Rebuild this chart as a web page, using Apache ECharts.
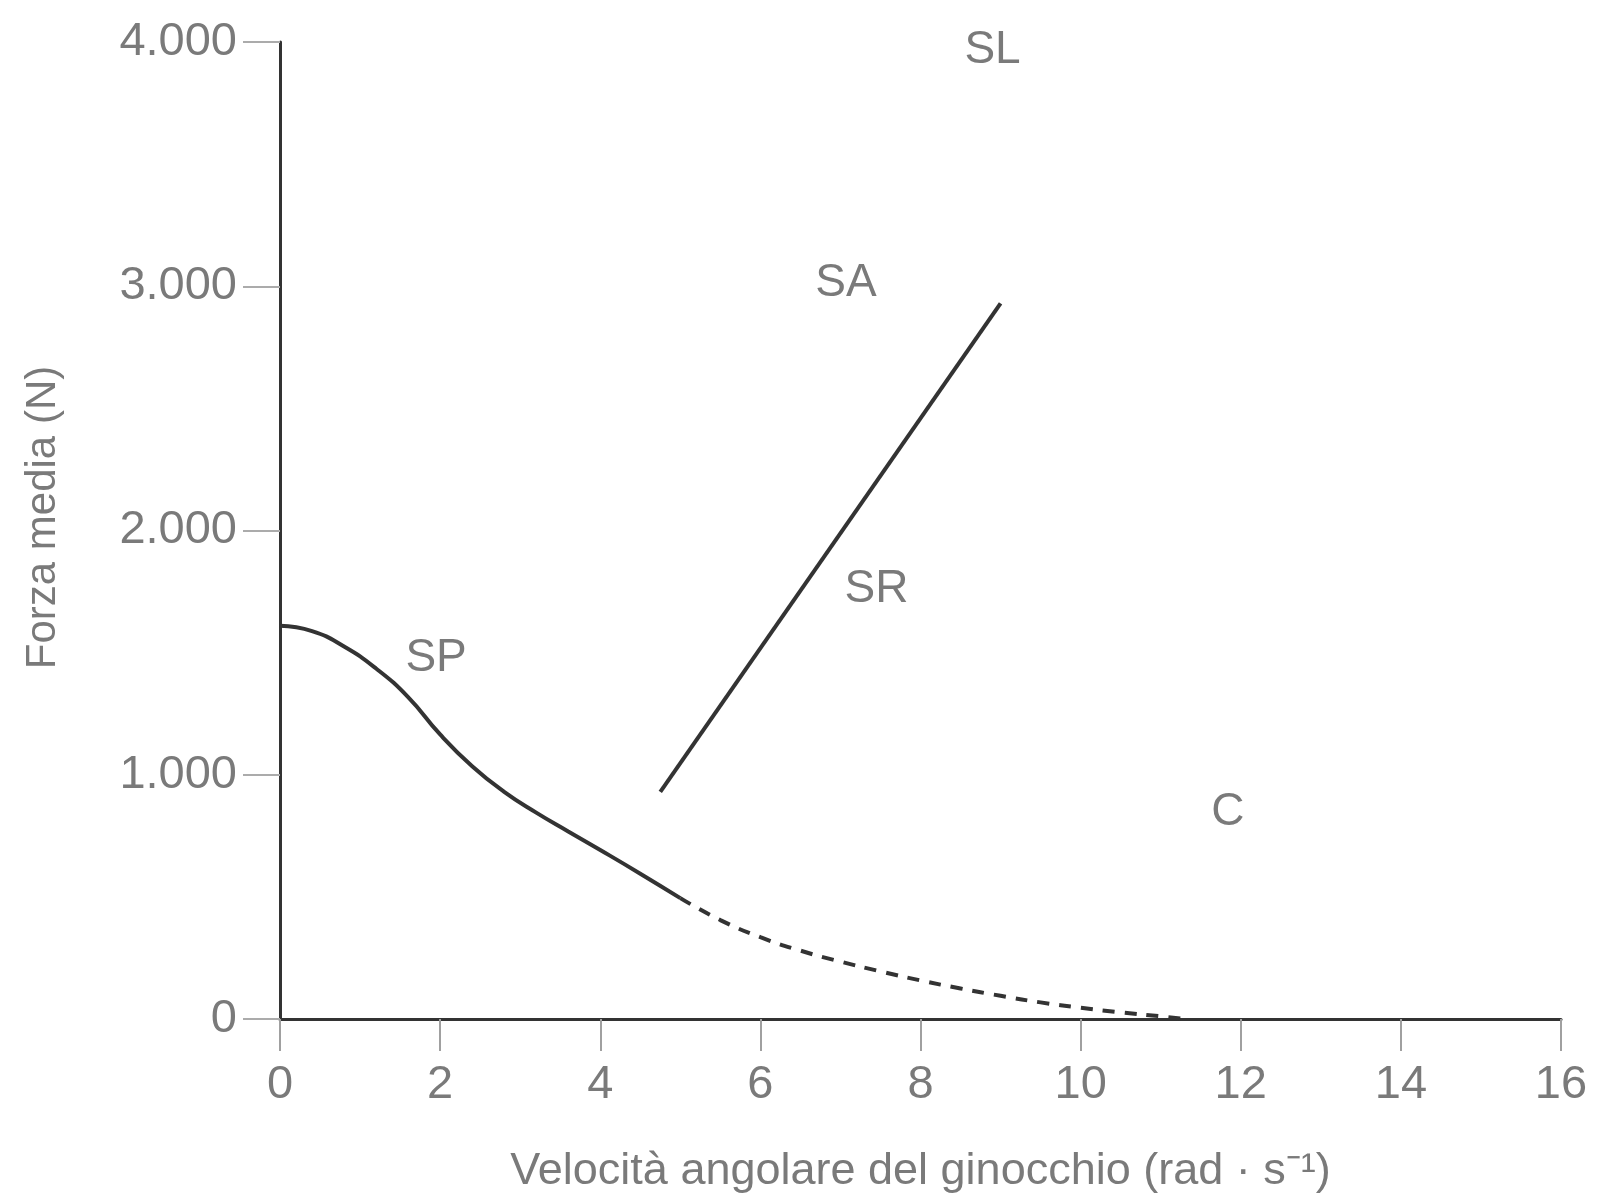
<!DOCTYPE html>
<html>
<head>
<meta charset="utf-8">
<script src="https://cdn.jsdelivr.net/npm/echarts@6/dist/echarts.min.js"></script>
<style>
  html, body { margin: 0; padding: 0; background: #fff; }
  #chart { width: 1600px; height: 1203px; }
</style>
</head>
<body>
<div id="chart"></div>
<script>
// Knee angular velocity (rad/s) vs mean force (N)
const xTickLabels = ['0', '2', '4', '6', '8', '10', '12', '14', '16'];
const yTickLabels = ['0', '1.000', '2.000', '3.000', '4.000'];

// Force-velocity curve, measured part (solid)
const spVelocity = [0, 0.4, 0.8, 1.2, 1.6, 2.0, 2.4, 2.8, 3.2, 3.6, 4.0, 4.5, 5.0];
const spForce    = [1610, 1588, 1525, 1435, 1318, 1165, 1035, 930, 845, 768, 692, 595, 495];

// Extrapolated part of the same curve (dashed)
const extVelocity = [5.0, 5.5, 6.0, 6.5, 7.0, 7.5, 8.0, 8.5, 9.0, 9.5, 10.0, 10.5, 11.0, 11.3];
const extForce    = [495, 405, 335, 280, 235, 195, 158, 125, 95, 68, 46, 27, 11, 0];

// Straight line separating the SA and SR regions
const lineVelocity = [4.75, 9.0];
const lineForce    = [930, 2930];

// Region labels
const regionNames    = ['SL', 'SA', 'SR', 'SP', 'C'];
const regionVelocity = [8.9, 7.07, 7.45, 1.95, 11.84];
const regionForce    = [3965, 3010, 1760, 1478, 846];

const zip = (xs, ys) => xs.map((x, i) => [x, ys[i]]);

const FONT = "'Liberation Sans', Arial, sans-serif";
const TEXT = '#7a7a7a';
const INK = '#333333';

const chart = echarts.init(document.getElementById('chart'), null, { renderer: 'canvas' });

chart.setOption({
  backgroundColor: '#ffffff',
  animation: false,
  grid: { left: 280, top: 42, right: 39, bottom: 184, containLabel: false },
  xAxis: {
    type: 'value',
    min: 0, max: 16, interval: 2,
    name: 'Velocità angolare del ginocchio (rad · s\u207B\u00B9)',
    nameLocation: 'middle',
    nameGap: 130,
    nameTextStyle: { fontFamily: FONT, fontSize: 45, color: TEXT },
    axisLine: { show: true, lineStyle: { color: INK, width: 3 } },
    axisTick: { show: true, inside: false, length: 32, lineStyle: { color: '#a0a0a0', width: 2 } },
    axisLabel: {
      margin: 43,
      fontFamily: FONT, fontSize: 47, color: TEXT,
      formatter: (v) => xTickLabels[Math.round(v / 2)]
    },
    splitLine: { show: false }
  },
  yAxis: {
    type: 'value',
    min: 0, max: 4000, interval: 1000,
    name: 'Forza media (N)',
    nameLocation: 'middle',
    nameGap: 216,
    nameRotate: 90,
    nameTextStyle: { fontFamily: FONT, fontSize: 42, color: TEXT, padding: [0, 0, 0, 26] },
    axisLine: { show: true, lineStyle: { color: INK, width: 3 } },
    axisTick: { show: true, inside: false, length: 37, lineStyle: { color: '#ababab', width: 2 } },
    axisLabel: {
      margin: 43,
      fontFamily: FONT, fontSize: 47, color: TEXT,
      formatter: (v) => yTickLabels[Math.round(v / 1000)]
    },
    splitLine: { show: false }
  },
  series: [
    {
      type: 'line',
      data: zip(spVelocity, spForce),
      smooth: 0.5,
      symbol: 'none',
      lineStyle: { color: INK, width: 4 },
      z: 3
    },
    {
      type: 'line',
      data: zip(extVelocity, extForce),
      smooth: 0.5,
      symbol: 'none',
      lineStyle: { color: INK, width: 4, type: [12, 10] },
      z: 3
    },
    {
      type: 'line',
      data: zip(lineVelocity, lineForce),
      symbol: 'none',
      lineStyle: { color: INK, width: 4 },
      z: 3
    },
    {
      type: 'scatter',
      data: regionNames.map((n, i) => ({ name: n, value: [regionVelocity[i], regionForce[i]] })),
      symbol: 'circle',
      symbolSize: 2,
      itemStyle: { color: '#ffffff', opacity: 1 },
      label: {
        show: true,
        position: 'inside',
        formatter: (p) => p.name,
        fontFamily: FONT, fontSize: 46, color: TEXT,
        opacity: 1, textBorderWidth: 0
      },
      emphasis: { disabled: true },
      z: 4
    }
  ]
});
</script>
</body>
</html>
